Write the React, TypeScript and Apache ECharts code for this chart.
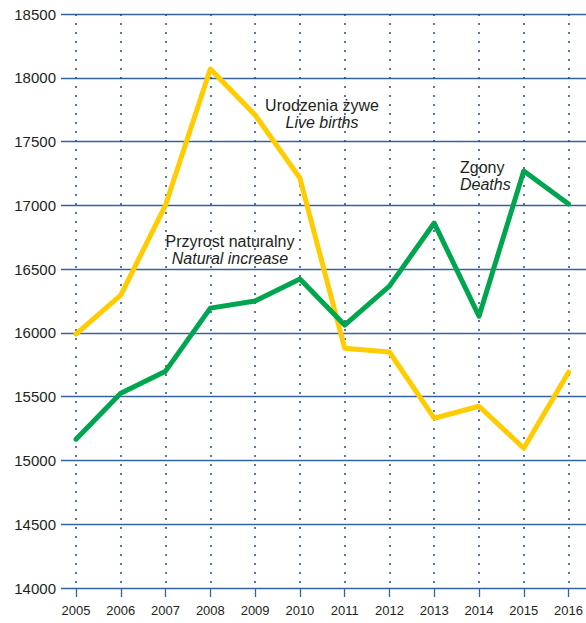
import React, { useEffect, useRef } from "react";
import * as echarts from "echarts";

const years = ["2005", "2006", "2007", "2008", "2009", "2010", "2011", "2012", "2013", "2014", "2015", "2016"];
const liveBirths = [15990, 16296, 17002, 18069, 17708, 17214, 15880, 15850, 15331, 15425, 15096, 15692];
const deaths = [15167, 15527, 15700, 16194, 16250, 16422, 16061, 16367, 16861, 16131, 17269, 17010];

const Y_MIN = 14000;
const Y_MAX = 18500;
const Y_STEP = 500;

const FONT = "'Liberation Sans', Arial, sans-serif";
const TEXT = "#231f20";

export default function App() {
  const ref = useRef<HTMLDivElement>(null);
  useEffect(() => {
    if (!ref.current) return;
    const chart = echarts.init(ref.current, null, { renderer: "svg" });
    const label = (x: number, y: number, gap: number, a: string, b: string, align: string) => [
      {
        type: "text",
        x,
        y,
        style: { text: a, font: `16px ${FONT}`, fill: TEXT, textAlign: align, textVerticalAlign: "bottom" },
      },
      {
        type: "text",
        x,
        y: y + gap,
        style: { text: b, font: `italic 16px ${FONT}`, fill: TEXT, textAlign: align, textVerticalAlign: "bottom" },
      },
    ];
    chart.setOption({
      animation: false,
      backgroundColor: "#ffffff",
      grid: [
        { left: 61, right: 0, top: 14, bottom: 35 },
        { left: 76, right: 15, top: 14, bottom: 35 },
      ],
      xAxis: [
        { type: "value", gridIndex: 0, min: 0, max: 1, show: false },
        {
          type: "category",
          gridIndex: 1,
          data: years,
          boundaryGap: false,
          axisLine: { show: false },
          axisTick: { show: true, length: 9, lineStyle: { color: "#3563a0", width: 1.3 } },
          axisLabel: { color: TEXT, fontFamily: FONT, fontSize: 13, margin: 16 },
          splitLine: { show: true, lineStyle: { color: "#1f4e8c", width: 1.5, type: [2, 7] } },
        },
      ],
      yAxis: [
        {
          type: "value",
          gridIndex: 0,
          min: Y_MIN,
          max: Y_MAX,
          interval: Y_STEP,
          axisLine: { show: false },
          axisTick: { show: false },
          axisLabel: {
            color: TEXT,
            fontFamily: FONT,
            fontSize: 15,
            margin: 5,
            formatter: (v: number) => String(v),
          },
          splitLine: { show: true, lineStyle: { color: "#3563a0", width: 1.4 } },
        },
        {
          type: "value",
          gridIndex: 1,
          min: Y_MIN,
          max: Y_MAX,
          interval: Y_STEP,
          show: false,
          splitLine: { show: false },
        },
      ],
      series: [
        {
          type: "line",
          name: "Live births",
          xAxisIndex: 1,
          yAxisIndex: 1,
          data: liveBirths,
          symbol: "none",
          lineStyle: { color: "#ffcc00", width: 5, join: "round", cap: "round" },
        },
        {
          type: "line",
          name: "Deaths",
          xAxisIndex: 1,
          yAxisIndex: 1,
          data: deaths,
          symbol: "none",
          lineStyle: { color: "#00a54f", width: 5, join: "round", cap: "round" },
        },
      ],
      graphic: [
        ...label(322, 113, 17, "Urodzenia żywe", "Live births", "center"),
        ...label(230, 249, 17, "Przyrost naturalny", "Natural increase", "center"),
        ...label(460, 175, 17, "Zgony", "Deaths", "left"),
      ],
    });
    return () => chart.dispose();
  }, []);
  return <div ref={ref} style={{ position: "fixed", left: 0, top: 0, width: 586, height: 623 }} />;
}
